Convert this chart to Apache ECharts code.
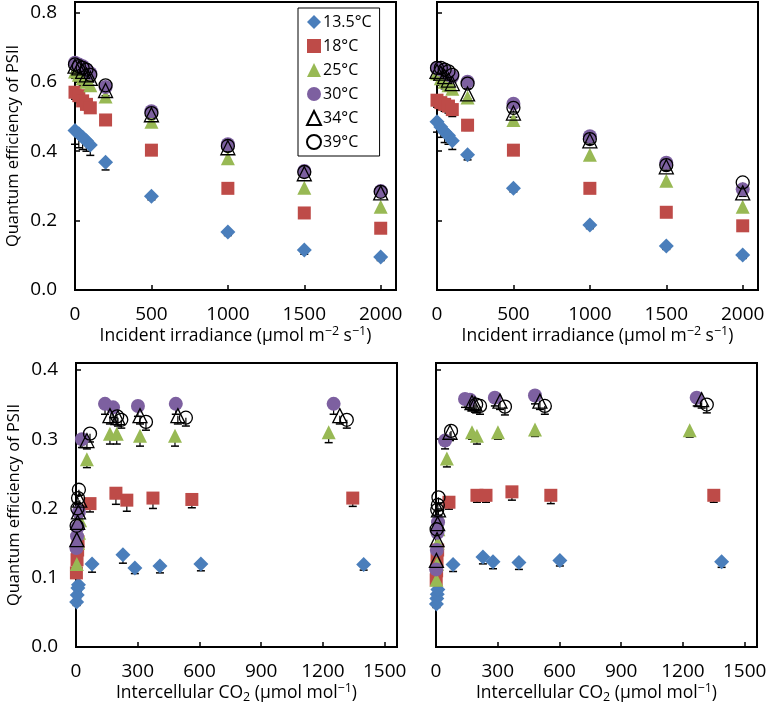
<!DOCTYPE html>
<html><head><meta charset="utf-8">
<script src="https://cdn.jsdelivr.net/npm/echarts@6/dist/echarts.min.js"></script>
<style>html,body{margin:0;padding:0;background:#fff}#c{width:771px;height:706px}</style>
</head><body><div id="c"></div>
<script>
// ---------- DATA ----------
const tempNames = ['13.5°C', '18°C', '25°C', '30°C', '34°C', '39°C'];
const irrX = [0, 25, 50, 75, 100, 200, 500, 1000, 1500, 2000];
const irrTicks = [0, 500, 1000, 1500, 2000];
const co2Ticks = [0, 300, 600, 900, 1200, 1500];

// Top-left: quantum efficiency vs irradiance
const tl135 = [0.46, 0.45, 0.44, 0.43, 0.418, 0.368, 0.27, 0.167, 0.115, 0.095];
const tl18  = [0.57, 0.56, 0.545, 0.535, 0.525, 0.49, 0.403, 0.293, 0.222, 0.178];
const tl25  = [0.63, 0.62, 0.61, 0.60, 0.59, 0.558, 0.485, 0.38, 0.295, 0.24];
const tl30  = [0.655, 0.65, 0.645, 0.635, 0.625, 0.585, 0.515, 0.42, 0.343, 0.285];
const tl34  = [0.645, 0.64, 0.63, 0.62, 0.61, 0.575, 0.505, 0.41, 0.335, 0.28];
const tl39  = [0.65, 0.645, 0.64, 0.635, 0.62, 0.59, 0.51, 0.415, 0.34, 0.283];
const tl135E = [0.04, 0.04, 0.035, 0.03, 0.03, 0.022, 0.01, 0.01, 0.012, 0.01];
const tl18E  = [0.02, 0.02, 0.015, 0.015, 0.015, 0.01, 0.01, 0.01, 0.01, 0.01];
const tl25E  = [0.02, 0.02, 0.02, 0.015, 0.015, 0.012, 0.01, 0.01, 0.01, 0.01];
const tl30E  = [0.015, 0.015, 0.015, 0.015, 0.015, 0.012, 0.01, 0.01, 0.01, 0.01];
const tl34E  = [0.02, 0.02, 0.02, 0.02, 0.02, 0.015, 0.012, 0.01, 0.01, 0.01];
const tl39E  = [0.02, 0.02, 0.02, 0.02, 0.02, 0.015, 0.012, 0.01, 0.01, 0.01];

// Top-right
const tr135 = [0.485, 0.47, 0.455, 0.445, 0.43, 0.39, 0.293, 0.187, 0.127, 0.101];
const tr18  = [0.547, 0.54, 0.535, 0.53, 0.52, 0.475, 0.403, 0.293, 0.224, 0.185];
const tr25  = [0.625, 0.61, 0.60, 0.59, 0.58, 0.555, 0.49, 0.39, 0.315, 0.24];
const tr30  = [0.64, 0.635, 0.63, 0.62, 0.615, 0.60, 0.537, 0.443, 0.367, 0.29];
const tr34  = [0.63, 0.625, 0.615, 0.605, 0.595, 0.565, 0.51, 0.43, 0.355, 0.28];
const tr39  = [0.64, 0.64, 0.635, 0.63, 0.62, 0.595, 0.525, 0.435, 0.36, 0.31];
const tr135E = [0.03, 0.03, 0.03, 0.025, 0.025, 0.015, 0.01, 0.01, 0.01, 0.01];
const tr18E  = [0.02, 0.02, 0.02, 0.02, 0.02, 0.015, 0.01, 0.01, 0.01, 0.01];
const tr25E  = [0.02, 0.02, 0.02, 0.015, 0.015, 0.012, 0.01, 0.01, 0.01, 0.01];
const tr30E  = [0.015, 0.015, 0.015, 0.015, 0.015, 0.012, 0.01, 0.01, 0.01, 0.01];
const tr34E  = [0.02, 0.02, 0.02, 0.02, 0.02, 0.015, 0.012, 0.01, 0.01, 0.01];
const tr39E  = [0.02, 0.02, 0.02, 0.02, 0.02, 0.015, 0.012, 0.01, 0.01, 0.01];

// Bottom-left: quantum efficiency vs intercellular CO2
const bl135X = [3, 6, 9, 12, 78, 228, 286, 408, 607, 1398];
const bl135  = [0.065, 0.075, 0.085, 0.09, 0.12, 0.133, 0.114, 0.117, 0.12, 0.119];
const bl18X  = [2, 5, 8, 10, 68, 194, 247, 374, 563, 1345];
const bl18   = [0.107, 0.126, 0.14, 0.152, 0.207, 0.222, 0.212, 0.215, 0.213, 0.215];
const bl25X  = [4, 10, 15, 20, 53, 165, 198, 311, 481, 1228];
const bl25   = [0.12, 0.15, 0.165, 0.183, 0.271, 0.308, 0.308, 0.305, 0.305, 0.31];
const bl30X  = [2, 5, 8, 14, 29, 141, 180, 301, 485, 1252];
const bl30   = [0.143, 0.16, 0.173, 0.195, 0.30, 0.351, 0.346, 0.348, 0.351, 0.351];
const bl34X  = [4, 8, 12, 18, 53, 165, 204, 311, 495, 1282];
const bl34   = [0.155, 0.18, 0.195, 0.212, 0.298, 0.334, 0.331, 0.334, 0.334, 0.334];
const bl39X  = [3, 7, 10, 14, 68, 200, 220, 340, 534, 1316];
const bl39   = [0.175, 0.20, 0.215, 0.227, 0.308, 0.333, 0.328, 0.325, 0.331, 0.328];
const bl135E = [0.005, 0.005, 0.005, 0.005, 0.012, 0.012, 0.008, 0.01, 0.01, 0.008];
const bl18E  = [0.005, 0.005, 0.005, 0.005, 0.012, 0.016, 0.016, 0.015, 0.012, 0.012];
const bl25E  = [0.005, 0.005, 0.005, 0.005, 0.012, 0.015, 0.015, 0.015, 0.015, 0.015];
const bl30E  = [0.005, 0.005, 0.005, 0.005, 0.012, 0.015, 0.015, 0.015, 0.015, 0.015];
const bl34E  = [0.008, 0.008, 0.008, 0.008, 0.012, 0.012, 0.012, 0.012, 0.012, 0.012];
const bl39E  = [0.008, 0.008, 0.008, 0.008, 0.012, 0.012, 0.012, 0.012, 0.012, 0.012];

// Bottom-right
const br135X = [2, 4, 6, 9, 83, 228, 277, 403, 602, 1388];
const br135  = [0.062, 0.07, 0.076, 0.083, 0.119, 0.13, 0.123, 0.122, 0.125, 0.123];
const br18X  = [1, 3, 5, 8, 63, 199, 243, 369, 558, 1350];
const br18   = [0.097, 0.11, 0.126, 0.14, 0.209, 0.219, 0.219, 0.224, 0.219, 0.219];
const br25X  = [2, 5, 8, 12, 53, 175, 199, 301, 481, 1233];
const br25   = [0.097, 0.12, 0.15, 0.17, 0.272, 0.31, 0.305, 0.31, 0.314, 0.313];
const br30X  = [1, 4, 7, 10, 44, 141, 165, 286, 481, 1267];
const br30   = [0.112, 0.14, 0.165, 0.18, 0.298, 0.358, 0.357, 0.36, 0.363, 0.36];
const br34X  = [2, 5, 8, 12, 68, 175, 189, 311, 505, 1291];
const br34   = [0.125, 0.155, 0.178, 0.198, 0.31, 0.353, 0.351, 0.355, 0.355, 0.357];
const br39X  = [3, 6, 9, 12, 73, 195, 214, 335, 529, 1316];
const br39   = [0.17, 0.198, 0.205, 0.216, 0.312, 0.35, 0.348, 0.347, 0.348, 0.35];
const br135E = [0.005, 0.005, 0.005, 0.005, 0.01, 0.01, 0.01, 0.01, 0.008, 0.008];
const br18E  = [0.005, 0.005, 0.005, 0.005, 0.01, 0.01, 0.01, 0.012, 0.012, 0.01];
const br25E  = [0.005, 0.005, 0.005, 0.005, 0.012, 0.01, 0.012, 0.01, 0.01, 0.01];
const br30E  = [0.005, 0.005, 0.005, 0.005, 0.012, 0.012, 0.012, 0.012, 0.012, 0.012];
const br34E  = [0.008, 0.008, 0.008, 0.008, 0.012, 0.012, 0.012, 0.012, 0.012, 0.012];
const br39E  = [0.008, 0.008, 0.008, 0.008, 0.012, 0.012, 0.012, 0.012, 0.012, 0.012];

// ---------- STYLE ----------
const FONT = 'Open Sans';
const markerStyles = [
  { symbol: 'diamond', symbolSize: 15, itemStyle: { color: '#4A7EBB', opacity: 1 } },
  { symbol: 'rect', symbolSize: 13, itemStyle: { color: '#BE4B48', opacity: 1 } },
  { symbol: 'triangle', symbolSize: 14, itemStyle: { color: '#98B954', opacity: 1 } },
  { symbol: 'circle', symbolSize: 14, itemStyle: { color: '#7D60A0', opacity: 1 } },
  { symbol: 'triangle', symbolSize: 14, itemStyle: { color: 'rgba(0,0,0,0)', borderColor: '#000', borderWidth: 1.3, opacity: 1 } },
  { symbol: 'circle', symbolSize: 13, itemStyle: { color: 'rgba(0,0,0,0)', borderColor: '#000', borderWidth: 1.3, opacity: 1 } }
];

const panels = [
  { xs: [irrX, irrX, irrX, irrX, irrX, irrX], ys: [tl135, tl18, tl25, tl30, tl34, tl39], es: [tl135E, tl18E, tl25E, tl30E, tl34E, tl39E] },
  { xs: [irrX, irrX, irrX, irrX, irrX, irrX], ys: [tr135, tr18, tr25, tr30, tr34, tr39], es: [tr135E, tr18E, tr25E, tr30E, tr34E, tr39E] },
  { xs: [bl135X, bl18X, bl25X, bl30X, bl34X, bl39X], ys: [bl135, bl18, bl25, bl30, bl34, bl39], es: [bl135E, bl18E, bl25E, bl30E, bl34E, bl39E] },
  { xs: [br135X, br18X, br25X, br30X, br34X, br39X], ys: [br135, br18, br25, br30, br34, br39], es: [br135E, br18E, br25E, br30E, br34E, br39E] }
];

const grids = [
  { left: 75, top: 2, width: 321, height: 288 },
  { left: 437, top: 2, width: 321, height: 288 },
  { left: 76, top: 363, width: 321, height: 284 },
  { left: 436, top: 363, width: 321, height: 284 }
].map(g => Object.assign(g, { show: true, borderColor: '#000', borderWidth: 2, backgroundColor: 'transparent' }));

const irrName = 'Incident irradiance (μmol m{sup|−2} s{sup|−1})';
const co2Name = 'Intercellular CO{sub|2} (μmol mol{sup|−1})';
const nameStyle = {
  fontFamily: FONT, fontSize: 17.5, color: '#000', lineHeight: 22,
  rich: {
    sup: { fontFamily: FONT, fontSize: 12.5, color: '#000', verticalAlign: 'top', lineHeight: 13 },
    sub: { fontFamily: FONT, fontSize: 12.5, color: '#000', verticalAlign: 'bottom', lineHeight: 13 }
  }
};

function makeX(gi, max, interval, ticks, name) {
  return {
    type: 'value', gridIndex: gi, min: 0, max: max, interval: interval,
    name: name, nameLocation: 'middle', nameGap: 34, nameTextStyle: nameStyle,
    axisLine: { show: true, onZero: false, lineStyle: { color: '#000', width: 2 } },
    axisTick: { show: true, inside: true, length: 5, lineStyle: { color: '#000', width: 1.5 } },
    axisLabel: { show: true, margin: 15, fontFamily: FONT, fontSize: 19, color: '#000', showMaxLabel: false,
      formatter: v => ticks.indexOf(v) >= 0 ? String(v) : '' },
    splitLine: { show: false }
  };
}
function makeY(gi, max, showLabels) {
  return {
    type: 'value', gridIndex: gi, min: 0, max: max, interval: gi < 2 ? 0.2 : 0.1,
    name: showLabels ? 'Quantum efficiency of PSII' : '', nameLocation: 'middle', nameGap: 53,
    nameTextStyle: { fontFamily: FONT, fontSize: 16.5, color: '#000' },
    axisLine: { show: true, onZero: false, lineStyle: { color: '#000', width: 2 } },
    axisTick: { show: true, inside: true, length: 5, lineStyle: { color: '#000', width: 1.5 } },
    axisLabel: { show: showLabels, margin: 18, fontFamily: FONT, fontSize: 19, color: '#000', showMaxLabel: false,
      formatter: v => (Math.abs(v * 10 - Math.round(v * 10)) < 1e-6 && v <= max - 0.005) ? v.toFixed(1) : '' },
    splitLine: { show: false }
  };
}

const xAxes = [
  makeX(0, 2100, 500, irrTicks, irrName),
  makeX(1, 2100, 500, irrTicks, irrName),
  makeX(2, 1560, 300, co2Ticks, co2Name),
  makeX(3, 1560, 300, co2Ticks, co2Name)
];
const yAxes = [makeY(0, 0.83, true), makeY(1, 0.83, false), makeY(2, 0.41, true), makeY(3, 0.41, false)];

const series = [];
panels.forEach((p, gi) => {
  for (let s = 0; s < 6; s++) {
    const data = p.xs[s].map((x, i) => [x, p.ys[s][i]]);
    series.push(Object.assign({
      type: 'scatter', name: tempNames[s], xAxisIndex: gi, yAxisIndex: gi,
      data: data, z: 3, emphasis: { disabled: true }
    }, JSON.parse(JSON.stringify(markerStyles[s]))));
    const edata = p.xs[s].map((x, i) => [x, p.ys[s][i], p.es[s][i]]);
    series.push({
      type: 'custom', xAxisIndex: gi, yAxisIndex: gi, data: edata, z: 2,
      silent: true,
      renderItem: function (params, api) {
        const a = api.coord([api.value(0), api.value(1)]);
        const b = api.coord([api.value(0), api.value(1) - api.value(2)]);
        return {
          type: 'group',
          children: [
            { type: 'line', shape: { x1: a[0], y1: a[1], x2: b[0], y2: b[1] }, style: { stroke: '#000', lineWidth: 1.2 } },
            { type: 'line', shape: { x1: b[0] - 4, y1: b[1], x2: b[0] + 4, y2: b[1] }, style: { stroke: '#000', lineWidth: 1.5 } }
          ]
        };
      }
    });
  }
});

const chart = echarts.init(document.getElementById('c'), null, { renderer: 'canvas' });
chart.setOption({
  animation: false,
  backgroundColor: '#fff',
  grid: grids,
  xAxis: xAxes,
  yAxis: yAxes,
  legend: {
    data: tempNames, orient: 'vertical', left: 298, top: 8,
    itemWidth: 14, itemHeight: 14, itemGap: 8,
    padding: [6, 8, 6, 8],
    borderColor: '#000', borderWidth: 1, backgroundColor: '#fff',
    textStyle: { fontFamily: FONT, fontSize: 16, color: '#000', padding: [0, 0, 0, -3] },
    selectedMode: false
  },
  series: series
});
</script>
</body></html>
